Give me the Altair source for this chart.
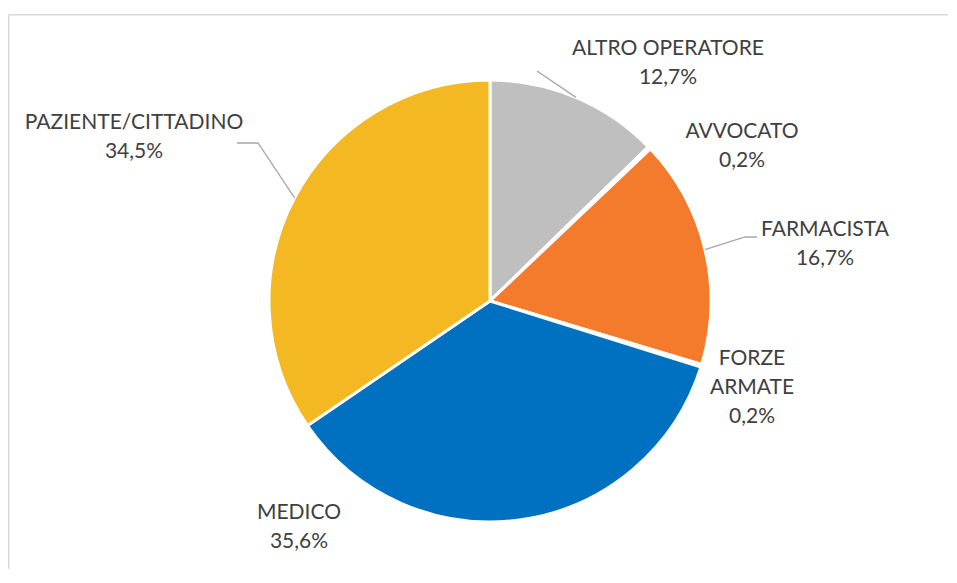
import math
import altair as alt
import pandas as pd

# ---- data ----
categories = ["ALTRO OPERATORE", "AVVOCATO", "FARMACISTA", "FORZE ARMATE", "MEDICO", "PAZIENTE/CITTADINO"]
values = [12.7, 0.2, 16.7, 0.2, 35.6, 34.5]
pct_labels = ["12,7%", "0,2%", "16,7%", "0,2%", "35,6%", "34,5%"]
label_names = ["ALTRO OPERATORE", "AVVOCATO", "FARMACISTA", "FORZE\nARMATE", "MEDICO", "PAZIENTE/CITTADINO"]

# ---- style / layout ----
colors = ["#BFBFBF", "#A5A5A5", "#F47B2B", "#7F7F7F", "#0070C0", "#F4B823"]
W, H = 940, 555
CX, CY = 482, 287
R = 221
# offset of each label's first line centre from the pie centre (px)
label_dx = [178, 252, 335, 262, -191, -356]
label_dy = [-252, -169, -71, 58, 212, -178]
leader_bends = {0: [(47, -230)], 2: [(255, -64), (267, -64)], 5: [(-232, -158), (-253, -158)]}

df = pd.DataFrame({"category": categories, "value": values, "idx": list(range(len(categories)))})

lab = pd.DataFrame({
    "category": categories,
    "text": [f"{n}\n{p}" for n, p in zip(label_names, pct_labels)],
    "x": [CX + d for d in label_dx],
    "y": [CY + d for d in label_dy],
})

total = sum(values)
rows = []
cum = 0.0
for i, v in enumerate(values):
    mid = (cum + v / 2) / total * 2 * math.pi
    cum += v
    if i in leader_bends:
        rows.append({"category": categories[i], "seq": 0,
                     "x": CX + R * math.sin(mid), "y": CY - R * math.cos(mid)})
        for k, (dx, dy) in enumerate(leader_bends[i]):
            rows.append({"category": categories[i], "seq": k + 1, "x": CX + dx, "y": CY + dy})
lines = pd.DataFrame(rows)

xs = alt.Scale(domain=[0, W], range=[0, W])
ys = alt.Scale(domain=[0, H], range=[0, H])

pie = alt.Chart(df).mark_arc(outerRadius=R, stroke="white", strokeWidth=3).encode(
    theta=alt.Theta("value:Q", stack=True),
    color=alt.Color("category:N", scale=alt.Scale(domain=categories, range=colors), legend=None),
    order=alt.Order("idx:Q"),
    x=alt.value(CX),
    y=alt.value(CY),
)

leaders = alt.Chart(lines).mark_line(color="#A6A6A6", strokeWidth=1.3).encode(
    x=alt.X("x:Q", scale=xs, axis=None),
    y=alt.Y("y:Q", scale=ys, axis=None),
    detail="category:N",
    order="seq:Q",
)

texts = alt.Chart(lab).mark_text(
    font="Lato", fontSize=21, color="#404040", lineBreak="\n", lineHeight=29,
    align="center", baseline="middle",
).encode(
    x=alt.X("x:Q", scale=xs, axis=None),
    y=alt.Y("y:Q", scale=ys, axis=None),
    text="text:N",
)

frame_top = alt.Chart(pd.DataFrame({"a": [0]})).mark_rule(color="#D9D9D9", strokeWidth=1.5).encode(
    x=alt.value(0.75), x2=alt.value(W), y=alt.value(0.75))
frame_left = alt.Chart(pd.DataFrame({"a": [0]})).mark_rule(color="#D9D9D9", strokeWidth=1.5).encode(
    x=alt.value(0.75), y=alt.value(0.75), y2=alt.value(H))

chart = alt.layer(frame_top, frame_left, pie, leaders, texts).properties(
    width=W, height=H,
    padding={"left": 0, "top": 6, "right": 0, "bottom": 0},
    autosize=alt.AutoSizeParams(type="none"),
).configure_view(stroke=None)

chart.save("out.html", embed_options={"renderer": "svg", "actions": False})
